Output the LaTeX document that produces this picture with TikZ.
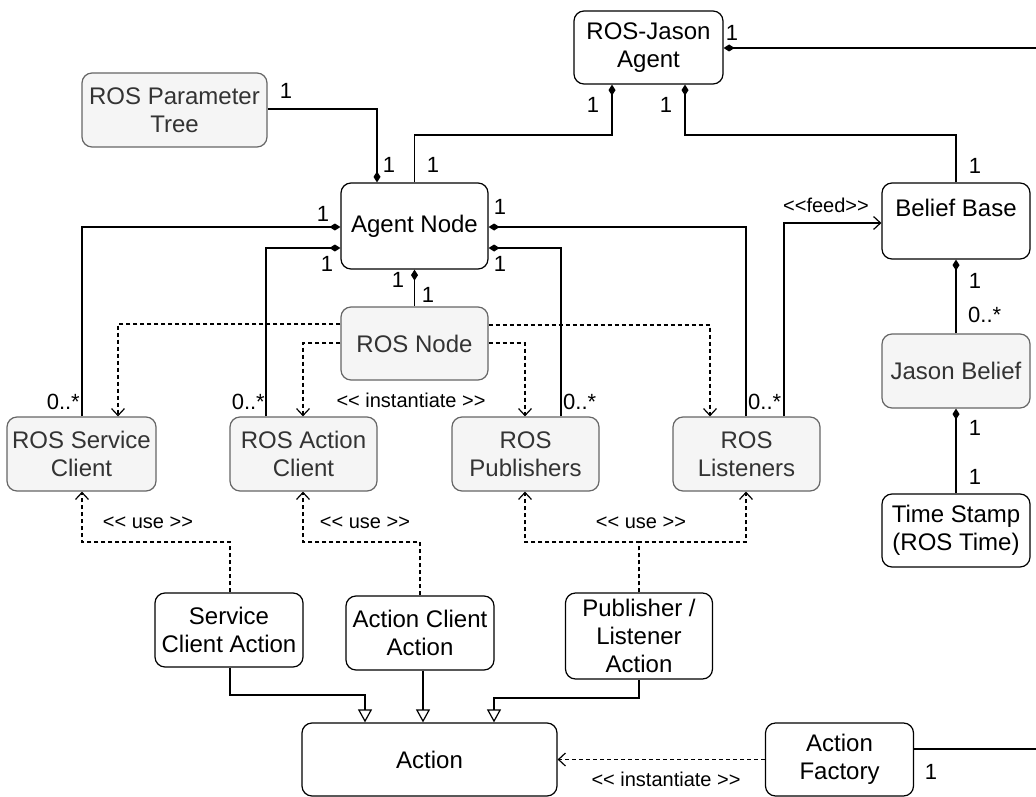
\documentclass[tikz,border=0pt]{standalone}
\usepackage{fontspec}
\setmainfont{Liberation Sans}
\usetikzlibrary{arrows.meta}
\definecolor{gfill}{HTML}{F5F5F5}
\definecolor{gline}{HTML}{666666}
\definecolor{gtext}{HTML}{333333}
\newcommand\bigf{\fontsize{24}{28}\selectfont}
\newcommand\smf{\fontsize{20}{23}\selectfont}
\newcommand\mlf{\fontsize{22}{25}\selectfont}
\newcommand\feedf{\fontsize{20}{23}\selectfont}
\begin{document}
\begin{tikzpicture}[x=1pt,y=-1pt,
  base/.style={draw, rounded corners=10pt, align=center, inner sep=0pt, line width=1.2pt, font=\bigf},
  wbox/.style={base, fill=white, draw=black},
  gbox/.style={base, fill=gfill, draw=gline, text=gtext},
  comp/.style={line width=1.2pt, -{Diamond[length=11pt,width=7pt]}},
  dep/.style={line width=1.2pt, dash pattern=on 4pt off 3pt, -{Straight Barb[length=7pt,width=13pt]}},
  feedarr/.style={line width=1.2pt, -{Straight Barb[length=7pt,width=13pt]}},
  gen/.style={line width=1.2pt, -{Triangle[open,length=13pt,width=14pt,fill=white]}},
  ml/.style={font=\mlf, inner sep=0pt},
  sl/.style={font=\smf, inner sep=0pt},
]
\useasboundingbox (0,0) rectangle (1036,797);

% boxes
\node[wbox, minimum width=149pt, minimum height=73pt] (rja) at (648.5,47.5) {ROS-Jason\\Agent};
\node[gbox, minimum width=185pt, minimum height=74pt] (prt) at (174.5,110) {ROS Parameter\\Tree};
\node[wbox, minimum width=147pt, minimum height=86pt] (an) at (414.5,226) {Agent Node};
\node[gbox, minimum width=147pt, minimum height=73pt] (rn) at (414.5,343.5) {ROS Node};
\node[gbox, minimum width=149pt, minimum height=74pt] (sc) at (81.5,454) {ROS Service\\Client};
\node[gbox, minimum width=147pt, minimum height=74pt] (ac) at (303.5,454) {ROS Action\\Client};
\node[gbox, minimum width=147pt, minimum height=74pt] (pub) at (525.5,454) {ROS\\Publishers};
\node[gbox, minimum width=147pt, minimum height=74pt] (lis) at (746.5,454) {ROS\\Listeners};
\node[wbox, minimum width=148pt, minimum height=76pt] (bb) at (956,221) {};
\node[font=\bigf, inner sep=0pt] (bbt) at (956,208) {Belief Base};
\node[gbox, minimum width=148pt, minimum height=74pt] (jb) at (956,371) {Jason Belief};
\node[wbox, minimum width=148pt, minimum height=73pt] (ts) at (956,530.5) {Time Stamp\\(ROS Time)};
\node[wbox, minimum width=148pt, minimum height=74pt] (sca) at (229,630) {Service\\Client Action};
\node[wbox, minimum width=148pt, minimum height=74pt] (aca) at (420,633) {Action Client\\Action};
\node[wbox, minimum width=147pt, minimum height=86pt] (pla) at (639,636) {Publisher /\\Listener\\Action};
\node[wbox, minimum width=255pt, minimum height=73pt] (act) at (429.5,759.5) {Action};
\node[wbox, minimum width=148pt, minimum height=73pt] (af) at (839.5,759.5) {Action\\Factory};

\coordinate (e1) at (1036,48);
\coordinate (e2) at (1036,749);

% composition connectors
\draw[comp] (e1) -- (rja.east |- e1);
\draw[comp] (an.north) |- (612,135) -- (rja.south -| 612,0);
\draw[comp] (bb.north) |- (685,135) -- (rja.south -| 685,0);
\draw[comp] (prt.east |- 0,109) -| (an.north -| 377,0);
\draw[comp] (sc.north -| 82,0) |- (an.west |- 0,227);
\draw[comp] (ac.north -| 266,0) |- (an.west |- 0,248);
\draw[comp] (pub.north -| 561,0) |- (an.east |- 0,248);
\draw[comp] (lis.north -| 746,0) |- (an.east |- 0,227);
\draw[comp] (rn.north) -- (an.south);
\draw[comp] (jb.north) -- (bb.south);
\draw[comp] (ts.north) -- (jb.south);
\draw[line width=1.2pt] (af.east |- e2) -- (e2);

% feed
\draw[feedarr] (lis.north -| 784,0) |- (bb.west |- 0,223);

% instantiate from ROS Node
\draw[dep] (rn.west |- 0,324) -| (sc.north -| 118,0);
\draw[dep] (rn.west |- 0,343) -| (ac.north -| 303,0);
\draw[dep] (rn.east |- 0,343) -| (pub.north -| 525,0);
\draw[dep] (rn.east |- 0,325) -| (lis.north -| 710,0);

% use
\draw[dep] (sca.north -| 230,0) |- (82,542) -- (sc.south -| 82,0);
\draw[dep] (aca.north) |- (303,542) -- (ac.south -| 303,0);
\draw[dep] (pla.north) |- (525,542) -- (pub.south -| 525,0);
\draw[dep] (pla.north) |- (746,542) -- (lis.south -| 746,0);

% generalization
\draw[gen] (sca.south -| 230,0) |- (365,695) -- (act.north -| 365,0);
\draw[gen] (aca.south -| 423,0) -- (act.north -| 423,0);
\draw[gen] (pla.south) |- (494,698) -- (act.north -| 494,0);

% factory
\draw[dep] (af.west) -- (act.east);

% multiplicity labels
\node[ml] (l1) at (732,33) {1};
\node[ml] (l2) at (593,105) {1};
\node[ml] (l3) at (666,105) {1};
\node[ml] (l4) at (286,91) {1};
\node[ml] (l5) at (389,165) {1};
\node[ml] (l6) at (433,165) {1};
\node[ml] (l7) at (323,214) {1};
\node[ml] (l8) at (327,264) {1};
\node[ml] (l9) at (500,207) {1};
\node[ml] (l10) at (500,264) {1};
\node[ml] (l11) at (398,280) {1};
\node[ml] (l12) at (428,295) {1};
\node[ml, anchor=east] (m1) at (80,402) {0..*};
\node[ml, anchor=east] (m2) at (265,402) {0..*};
\node[ml, anchor=west] (m3) at (563,402) {0..*};
\node[ml, anchor=west] (m4) at (748,402) {0..*};
\node[ml] (l13) at (975,166) {1};
\node[ml] (l14) at (975,281) {1};
\node[ml, anchor=west] (m5) at (968,315) {0..*};
\node[ml] (l15) at (975,428) {1};
\node[ml] (l16) at (975,477) {1};
\node[ml] (l17) at (931,772) {1};

% stereotype labels
\node[font=\feedf, inner sep=0pt] (fd) at (826,205) {<{}<feed>{}>};
\node[sl] (in1) at (411,400) {<{}< instantiate >{}>};
\node[sl] (in2) at (666,779) {<{}< instantiate >{}>};
\node[sl] (u1) at (148,523) {<{}< use >{}>};
\node[sl] (u2) at (365,523) {<{}< use >{}>};
\node[sl] (u3) at (641,523) {<{}< use >{}>};
\end{tikzpicture}
\end{document}
